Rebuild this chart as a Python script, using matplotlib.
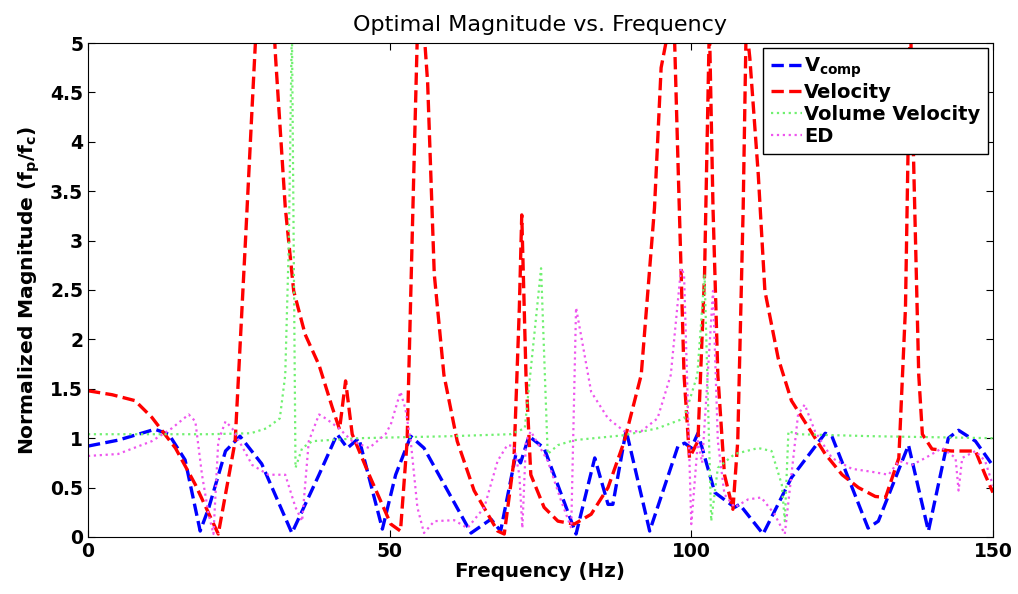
import numpy as np
import matplotlib
matplotlib.use('Agg')
from matplotlib import pyplot as plt
from matplotlib.ticker import FormatStrFormatter

# V_comp
f_vc = [0, 5, 11.1, 13.4, 16.1, 18.6, 20, 22.8, 25.2, 28.8, 33.8, 38.3, 41.3, 43, 44.9,
        48.8, 51, 53.5, 55.7, 63.5, 66.8, 68.4, 70.9, 71.7, 73.1, 75.6, 80.9, 84, 86.2,
        87, 89.2, 93.1, 97.8, 98.9, 100, 101.1, 103.9, 107.2, 108, 111.9, 116.6, 122.2,
        123.3, 129.3, 131, 136, 139.3, 142.6, 144.3, 147.1, 150]
m_vc = [0.92, 0.98, 1.09, 1.04, 0.78, 0.06, 0.29, 0.87, 1.02, 0.74, 0.04, 0.63, 1.04, 0.90, 1.0,
        0.08, 0.63, 1.02, 0.90, 0.04, 0.18, 0.06, 0.83, 0.75, 1.02, 0.90, 0.03, 0.80, 0.33,
        0.33, 1.08, 0.06, 0.92, 0.95, 0.90, 1.05, 0.45, 0.30, 0.33, 0.03, 0.60, 1.05,
        1.02, 0.09, 0.16, 0.93, 0.06, 1.0, 1.08, 0.97, 0.72]

# Velocity
f_v = [0, 4, 7.8, 10.6, 14.5, 17.8, 21.6, 24.4, 26.1, 27.2, 28, 29.5, 30.8, 31.1, 32.7,
       34.1, 36, 38.3, 40.5, 41.7, 42.7, 43.8, 46.6, 50.2, 51.8, 52.9, 54, 54.6, 55.5,
       56.3, 57.4, 59, 61.2, 64, 67.9, 69, 70.6, 71.5, 71.9, 72.6, 73.4, 75.6, 77.9,
       80.6, 83.4, 86.2, 88.9, 91.7, 93.9, 95, 96.1, 97.2, 97.7, 98.8, 99.7, 101.1,
       102.2, 103, 103.6, 104.4, 105.5, 106.9, 107.7, 108.6, 109.1, 109.7, 111.1,
       112.2, 114.4, 116.6, 119.4, 122.2, 125, 127.7, 130.5, 132.2, 134.4, 135.5,
       136.3, 136.9, 137.7, 138.3, 139.9, 143.2, 147.1, 148.7, 150]
m_v = [1.48, 1.44, 1.38, 1.21, 0.90, 0.53, 0.03, 0.97, 2.99, 4.34, 5.3, 5.4, 5.2, 4.85, 3.34,
       2.49, 2.05, 1.74, 1.31, 1.09, 1.58, 1.04, 0.63, 0.13, 0.06, 0.97, 3.67, 5.1, 5.3,
       4.6, 2.66, 1.64, 0.97, 0.47, 0.06, 0.03, 0.77, 2.32, 3.26, 1.64, 0.63, 0.30, 0.16,
       0.13, 0.23, 0.50, 0.97, 1.64, 3.33, 4.75, 5.1, 5.1, 4.0, 1.64, 0.80, 0.97,
       2.66, 5.2, 3.33, 1.64, 0.63, 0.28, 0.97, 3.33, 5.2, 4.85, 3.67,
       2.49, 1.81, 1.38, 1.11, 0.84, 0.63, 0.50, 0.41, 0.40, 0.80, 2.32,
       5.3, 3.67, 1.64, 1.04, 0.89, 0.87, 0.87, 0.63, 0.45]

# Volume Velocity
f_vv = [0, 10, 20, 27, 29.6, 31.8, 32.7, 33.3, 33.8, 34.4, 35.5, 37.2, 45, 60, 70,
        72.4, 75.1, 76.2, 77.9, 80.6, 88.9, 94.4, 98.8, 101, 102.2, 103.3, 104.4,
        107.2, 111.1, 113.3, 115, 115.5, 116.1, 117.7, 130, 150]
m_vv = [1.04, 1.04, 1.04, 1.05, 1.1, 1.2, 1.64, 2.99, 5.2, 0.70, 0.90, 0.97, 1.0, 1.02, 1.04,
        1.1, 2.72, 0.84, 0.93, 0.98, 1.03, 1.1, 1.2, 1.64, 2.66, 0.16, 0.70,
        0.84, 0.90, 0.87, 0.53, 0.16, 1.07, 1.04, 1.02, 1.0]

# ED
f_ed = [0, 5, 10.6, 13.9, 16.7, 17.8, 18.9, 20, 20.8, 21.6, 22.8, 23.9, 27.2, 29.9, 32.7,
        34.4, 35.5, 36.6, 38.3, 39.4, 41.6, 43.8, 46.6, 49.3, 50.2, 51.8, 52.6, 53.5,
        54.6, 55.7, 57.4, 60.7, 62.9, 65.7, 67.9, 69.5, 70.6, 71.5, 72, 72.6, 73.4,
        76.2, 78.4, 80.1, 80.9, 81.7, 83.4, 86.2, 88.9, 91.7, 94.4, 96.6, 98.3, 98.8,
        100, 101.1, 101.8, 103.6, 104.4, 105.5, 107.2, 109.4, 111.6, 113.8, 115.5,
        116.6, 117.7, 118.8, 120.5, 123.3, 126.6, 129.9, 132.7, 134.4, 136.6, 138.8,
        141.6, 143.8, 144.3, 144.9, 147.1, 148.7, 150]
m_ed = [0.82, 0.84, 0.97, 1.1, 1.24, 1.17, 0.63, 0.23, 0.03, 0.97, 1.17, 1.1, 0.73, 0.63, 0.63,
        0.30, 0.16, 0.97, 1.24, 1.2, 1.1, 0.97, 0.90, 1.04, 1.14, 1.47, 1.30, 0.97,
        0.30, 0.04, 0.16, 0.17, 0.09, 0.30, 0.77, 0.93, 0.92, 0.63, 0.09, 0.97, 1.07,
        0.77, 0.37, 0.09, 2.32, 2.05, 1.47, 1.20, 1.07, 1.07, 1.2, 1.64, 2.72, 2.66,
        0.13, 0.97, 0.75, 2.49, 0.97, 0.43, 0.30, 0.38, 0.40, 0.23, 0.03,
        0.63, 1.24, 1.34, 1.07, 0.80, 0.69, 0.66, 0.63, 0.77, 0.73, 0.80,
        0.90, 0.80, 0.47, 0.8, 0.87, 0.77, 0.52]

fig = plt.figure(figsize=(10.18, 5.94), dpi=100)
ax = fig.add_axes([0.0864, 0.096, 0.889, 0.8316])

ax.plot(f_vc, m_vc, '--', color='#0000ff', lw=2.4, label='V$_{\\mathbf{comp}}$')
ax.plot(f_v, m_v, '--', color='#ff0000', lw=2.4, label='Velocity')
ax.plot(f_vv, m_vv, ':', color='#70f070', lw=1.6, label='Volume Velocity')
ax.plot(f_ed, m_ed, ':', color='#ee55ee', lw=1.6, label='ED')

ax.set_xlim(0, 150)
ax.set_ylim(0, 5)
ax.set_xticks([0, 50, 100, 150])
ax.set_yticks(np.arange(0, 5.01, 0.5))
ax.yaxis.set_major_formatter(FormatStrFormatter('%g'))
ax.tick_params(direction='in', top=True, right=True, labelsize=13.5, length=5)
for lbl in ax.get_xticklabels() + ax.get_yticklabels():
    lbl.set_fontweight('bold')

ax.set_title('Optimal Magnitude vs. Frequency', fontsize=16, pad=9)
ax.set_xlabel('Frequency (Hz)', fontsize=14.3, fontweight='bold', labelpad=1)
ax.set_ylabel('Normalized Magnitude (f$_\\mathbf{p}$/f$_\\mathbf{c}$)', fontsize=14.6,
              fontweight='bold', labelpad=6)

leg = ax.legend(loc='upper right', prop={'weight': 'bold', 'size': 14},
                handlelength=1.6, handletextpad=0.1, borderaxespad=0.25,
                labelspacing=0.15, fancybox=False, framealpha=1, edgecolor='black')
leg.get_frame().set_linewidth(1.0)

plt.savefig('out.png', dpi=100)
